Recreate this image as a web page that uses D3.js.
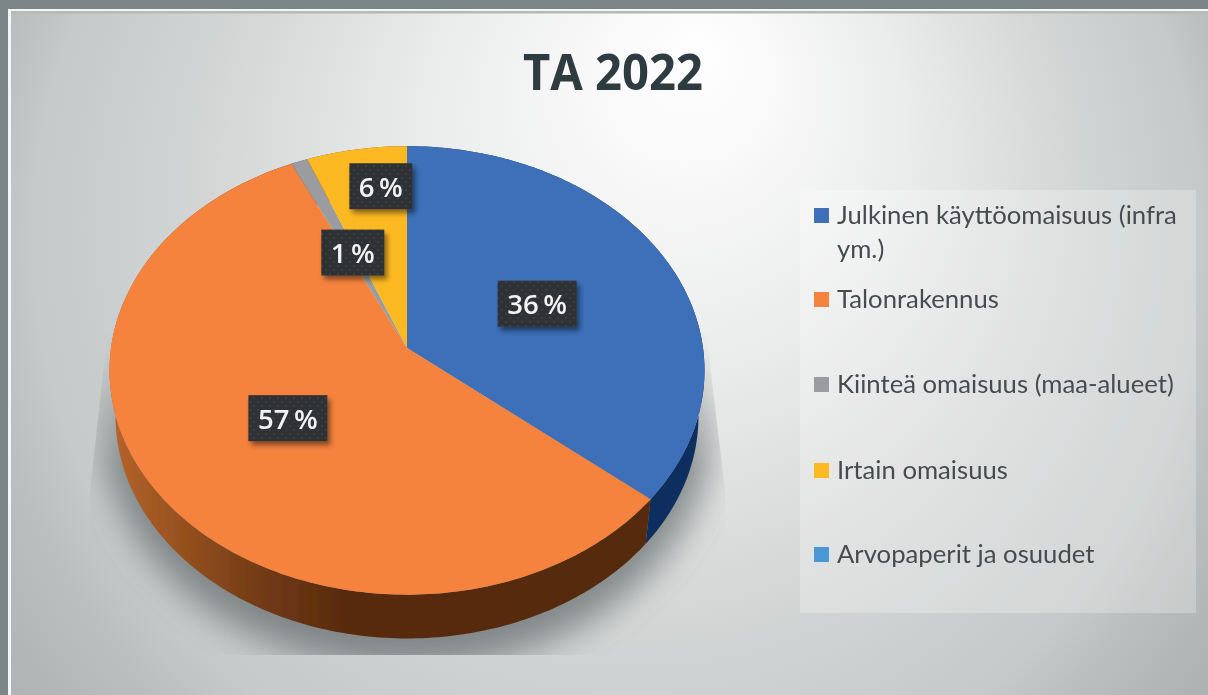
<!DOCTYPE html>
<html><head><meta charset="utf-8">
<script src="https://cdn.jsdelivr.net/npm/d3@7"></script>
<style>html,body{margin:0;padding:0;background:#7c8587;overflow:hidden}svg{display:block}</style>
</head><body><svg id="c" width="1208" height="695"></svg>
<script>
const title = "TA 2022";
const categories = ["Julkinen käyttöomaisuus (infra ym.)","Talonrakennus","Kiinteä omaisuus (maa-alueet)","Irtain omaisuus","Arvopaperit ja osuudet"];
const values = [36,57,1,6,0];
const sliceColors = ["#3c70b9","#f5823d","#9b9c9f","#fdb924","#4a98d6"];
const sideColors = ["#0e2f5e","url(#orangeSide)","#55565a","#7d5a10","#1f4f78"];
const labelRadii = [0.5,0.5,0.5,0.8];

const W=1208,H=695;
const svg=d3.select("#c");
const defs=svg.append("defs");

// background
const bg=defs.append("radialGradient").attr("id","bg").attr("gradientUnits","userSpaceOnUse")
 .attr("cx",590).attr("cy",300).attr("r",780).attr("fx",700).attr("fy",50);
[[0,"#ffffff"],[.1,"#fafafa"],[.3,"#ebecec"],[.5,"#d9dada"],[.61,"#cfd2d2"],[.75,"#c6c9c9"],[.81,"#bcbfbf"],[.9,"#b2b5b5"],[1,"#a8acac"]].forEach(s=>bg.append("stop").attr("offset",s[0]).attr("stop-color",s[1]));

const os=defs.append("linearGradient").attr("id","orangeSide").attr("gradientUnits","userSpaceOnUse").attr("x1",112).attr("x2",700).attr("y1",0).attr("y2",0);
[[0,"#b5642a"],[.12,"#96511f"],[.25,"#733b16"],[.4,"#582a0d"],[1,"#562a0c"]].forEach(s=>os.append("stop").attr("offset",s[0]).attr("stop-color",s[1]));

const f1=defs.append("filter").attr("id","shadowBlur").attr("x","-20%").attr("y","-20%").attr("width","140%").attr("height","140%");
f1.append("feGaussianBlur").attr("stdDeviation",17);
const f2=defs.append("filter").attr("id","boxShadow").attr("x","-20%").attr("y","-20%").attr("width","150%").attr("height","150%");
f2.append("feDropShadow").attr("dx",3).attr("dy",4).attr("stdDeviation",2.5).attr("flood-color","#000").attr("flood-opacity",.45);
const f3=defs.append("filter").attr("id","soft").attr("x","-5%").attr("y","-5%").attr("width","110%").attr("height","110%");
f3.append("feGaussianBlur").attr("stdDeviation",.55);
const p=defs.append("pattern").attr("id","dots").attr("patternUnits","userSpaceOnUse").attr("width",8).attr("height",8);
p.append("rect").attr("width",8).attr("height",8).attr("fill","#2e3134");
p.append("circle").attr("cx",2).attr("cy",2).attr("r",1).attr("fill","#3e4246");
p.append("circle").attr("cx",6).attr("cy",6).attr("r",1).attr("fill","#3e4246");
const sm=defs.append("linearGradient").attr("id","fade").attr("gradientUnits","userSpaceOnUse").attr("x1",0).attr("x2",0).attr("y1",330).attr("y2",470);
[[0,"#000"],[1,"#fff"]].forEach(s=>sm.append("stop").attr("offset",s[0]).attr("stop-color",s[1]));
const mk=defs.append("mask").attr("id","shadowMask").attr("maskUnits","userSpaceOnUse").attr("x",0).attr("y",0).attr("width",W).attr("height",H);
mk.append("path").attr("d","M108,330L90,490L90,655L725,655L725,490L706,330Z").attr("fill","url(#fade)");

// frame
svg.append("rect").attr("width",W).attr("height",H).attr("fill","#7c8587");
svg.append("rect").attr("x",8).attr("y",9).attr("width",W-8).attr("height",H-9).attr("fill","#f4f5f5");
svg.append("rect").attr("x",11).attr("y",11).attr("width",W-11).attr("height",H-11).attr("fill","url(#bg)");
svg.append("rect").attr("x",11).attr("y",11).attr("width",W-11).attr("height",2.5).attr("fill","#b6b9b6");

// perspective pie projection
const k=-0.1;
function project(theta,g){
  const u=Math.sin(theta), v=-Math.cos(theta), d=1+k*v;
  return [g.cx+g.b*u/d, g.cy+g.a*v/d];
}
const topG={cx:407,cy:348,b:296,a:222};
const botG={cx:407,cy:394,b:290,a:220};
const line=d3.line();
const pie=d3.pie().sort(null).value((d,i)=>values[i])(categories);
const samples=(a,b)=>{const n=Math.max(2,Math.ceil((b-a)*60));return d3.range(n+1).map(i=>a+(b-a)*i/n)};

const chart=svg.append("g").attr("filter","url(#soft)");

// ground shadow
chart.append("g").attr("mask","url(#shadowMask)").append("path")
 .attr("d",line(samples(0,2*Math.PI).map(t=>project(t,{cx:407,cy:396,b:304,a:246})))+"Z")
 .attr("fill","#686e6f").attr("opacity",.75).attr("filter","url(#shadowBlur)");

// sides
chart.append("g").selectAll("path").data(pie).join("path")
 .attr("d",d=>{
   const ts=samples(d.startAngle,d.endAngle);
   return line(ts.map(t=>project(t,topG)).concat(ts.slice().reverse().map(t=>project(t,botG))))+"Z";
 }).attr("fill",d=>sideColors[d.index]);

// top
chart.append("g").selectAll("path").data(pie).join("path")
 .attr("d",d=>line([[topG.cx,topG.cy]].concat(samples(d.startAngle,d.endAngle).map(t=>project(t,topG))))+"Z")
 .attr("fill",d=>sliceColors[d.index]);

// title
chart.append("text").attr("x",613).attr("y",90).attr("text-anchor","middle")
 .attr("font-family","Open Sans").attr("font-weight",700).attr("font-size",51)
 .attr("textLength",180).attr("lengthAdjust","spacingAndGlyphs").attr("fill","#2e3a40").text(title);

// legend
chart.append("rect").attr("x",800).attr("y",190).attr("width",396).attr("height",423).attr("fill","#fff").attr("opacity",.25);
const legendLines=[["Julkinen käyttöomaisuus (infra","ym.)"],[categories[1]],[categories[2]],[categories[3]],[categories[4]]];
const swY=[208,292,377,463,547];
const lg=chart.append("g").selectAll("g").data(categories).join("g");
lg.append("rect").attr("x",814).attr("y",(d,i)=>swY[i]).attr("width",15).attr("height",15).attr("fill",(d,i)=>sliceColors[i]);
lg.each(function(d,i){
  const t=d3.select(this).append("text").attr("font-family","Lato").attr("font-size",25.7).attr("fill","#474c4f");
  legendLines[i].forEach((l,j)=>t.append("tspan").attr("x",837).attr("y",swY[i]+16+j*34).text(l));
});

// labels
const nudge=[[-1,2],[1.5,0],[2,2],[15,0]];
const lab=chart.append("g").selectAll("g").data(pie.filter(d=>d.value>0)).join("g");
lab.each(function(d){
  const r=labelRadii[d.index];
  const m=(d.startAngle+d.endAngle)/2;
  const u=Math.sin(m)*r, v=-Math.cos(m)*r, dn=1+k*v;
  const x=topG.cx+topG.b*u/dn+nudge[d.index][0], y=topG.cy+topG.a*v/dn+nudge[d.index][1];
  const w=d.value>=10?79:63, h=46;
  const g=d3.select(this);
  g.append("rect").attr("x",x-w/2).attr("y",y-h/2).attr("width",w).attr("height",h).attr("fill","url(#dots)").attr("filter","url(#boxShadow)");
  g.append("text").attr("x",x).attr("y",y+10.5).attr("text-anchor","middle")
   .attr("font-family","Open Sans").attr("font-weight",600).attr("font-size",27.5).attr("fill","#f2f2f2").text(d.value+"\u2009%");
});
</script></body></html>
